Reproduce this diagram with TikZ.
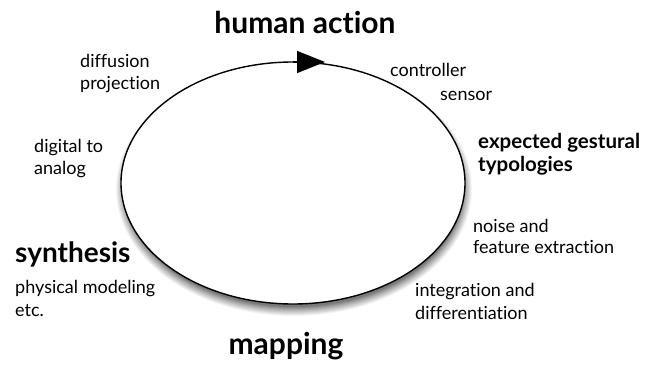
\documentclass[tikz,border=0pt]{standalone}
\usepackage{fontspec}
\setmainfont{Lato}[Ligatures=NoCommon]
\usetikzlibrary{shapes.geometric,arrows.meta}
\tikzset{
  head/.style={font=\fontsize{30}{34}\selectfont\bfseries, inner sep=0pt},
  synthhead/.style={font=\fontsize{28}{32}\selectfont\bfseries, inner sep=0pt, anchor=base west},
  subhead/.style={font=\fontsize{20.5}{24}\selectfont\bfseries, inner sep=0pt, anchor=base west},
  lbl/.style={font=\fontsize{18}{22}\selectfont, inner sep=0pt, anchor=base west},
  loopshape/.style={ellipse, draw, line width=1.4pt, fill=white, inner sep=0pt,
    minimum width=344pt, minimum height=242pt},
}
\begin{document}
\begin{tikzpicture}[x=1pt,y=-1pt]
\useasboundingbox (0,0) rectangle (646,366);
% soft drop shadow: graded grey rings, lightest outside
\fill[black!4] (294,189) ellipse [x radius=178pt, y radius=127pt];
\fill[black!9] (294,189) ellipse [x radius=177pt, y radius=126pt];
\fill[black!14] (294,189) ellipse [x radius=176pt, y radius=125pt];
\fill[black!19] (294,189) ellipse [x radius=175pt, y radius=124pt];
\fill[black!24] (294,189) ellipse [x radius=174pt, y radius=123pt];
\fill[black!29] (294,189) ellipse [x radius=173pt, y radius=122pt];
\fill[black!34] (294,189) ellipse [x radius=172pt, y radius=121pt];
\fill[black!40] (294,189) ellipse [x radius=171pt, y radius=120pt];
\fill[black!46] (294,189) ellipse [x radius=170pt, y radius=119pt];
\fill[black!52] (294,189) ellipse [x radius=169pt, y radius=118pt];
\node[loopshape] (loop) at (293,183) {};
\coordinate (arrstart) at (293,62);
\coordinate (arrend) at (325,62);
\draw[line width=1.4pt, -{Triangle[length=28pt,width=22pt]}] (arrstart) -- (arrend);
\node[head, anchor=base] (human) at (305,34) {human action};
\node[head, anchor=base] (mapping) at (286,355) {mapping};
\node[synthhead] (synth) at (15,263) {synthesis};
\node[lbl] (phys1) at (15,294) {physical modeling};
\node[lbl] (phys2) at (15,317) {etc.};
\node[lbl] (diff1) at (80,68) {diffusion};
\node[lbl] (diff2) at (80,90) {projection};
\node[lbl] (dig1) at (34,153) {digital to};
\node[lbl] (dig2) at (34,175) {analog};
\node[lbl] (ctrl) at (390,77) {controller};
\node[lbl] (sens) at (440,101) {sensor};
\node[subhead] (exp1) at (478,149) {expected gestural};
\node[subhead] (exp2) at (478,172) {typologies};
\node[lbl] (noise1) at (473,233) {noise and};
\node[lbl] (noise2) at (473,254) {feature extraction};
\node[lbl] (integ1) at (415,297) {integration and};
\node[lbl] (integ2) at (415,320) {differentiation};
\end{tikzpicture}
\end{document}
